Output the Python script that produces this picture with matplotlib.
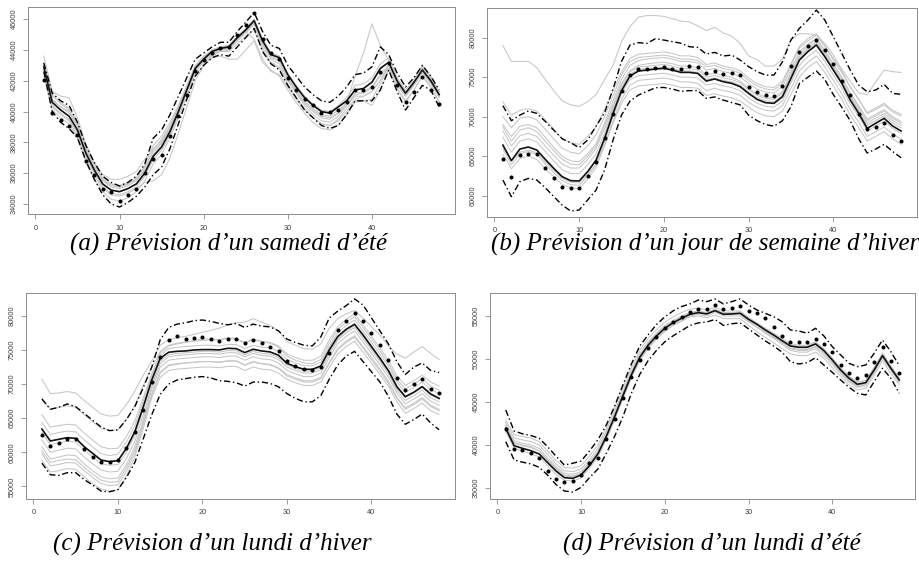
import matplotlib
matplotlib.use("Agg")
import matplotlib.pyplot as plt

x = list(range(1, 49))
x_ticks = [0, 10, 20, 30, 40]

captions = ["(a) Prévision d\u2019un samedi d\u2019été",
            "(b) Prévision d\u2019un jour de semaine d\u2019hiver",
            "(c) Prévision d\u2019un lundi d\u2019hiver",
            "(d) Prévision d\u2019un lundi d\u2019été"]

# ---------------- Panel (a) ----------------
a_yticks = [34000, 36000, 38000, 40000, 42000, 44000, 46000]
a_mean = [42900,40600,40100,39700,38800,37300,36200,35300,34900,34800,35000,35300,36000,37100,37700,38700,40000,41400,42800,43400,43900,44100,44200,44800,45300,45900,44600,43700,43500,42400,41600,40900,40400,40000,39900,40300,40700,41400,41500,41900,42800,43200,42000,41200,41900,42700,42000,41100]
a_real = [42050,39900,39450,39050,38500,36800,35900,34950,34800,34200,34600,34950,36000,36900,37200,38400,39700,41100,42650,43350,43800,44100,44200,45000,45600,46400,44700,43800,43400,42200,41400,40800,40400,39900,39950,40100,40650,41400,41400,41600,42600,43150,41750,40640,41290,42270,41400,40500]
a_upper = [43150,41200,40700,40400,39300,37800,36700,35800,35400,35170,35400,35800,36600,38270,38800,39800,41000,42200,43400,43800,44200,44500,44500,45200,45800,46440,45200,44300,44100,43000,42300,41600,41100,40700,40600,41000,41600,42400,42500,42900,44200,43700,42500,41600,42200,43000,42300,41400]
a_lower = [42600,40000,39300,38900,38300,36800,35600,34600,34000,33800,34100,34500,35100,35900,36400,37600,39200,40800,42300,43000,43500,43700,43600,44200,44800,45400,43900,43100,42700,41700,40900,40100,39600,39100,38900,39100,39800,40700,40700,40700,41400,42700,41300,40100,40900,41700,41400,40300]
a_gray1 = [43600,41300,41000,40900,39600,37900,36700,35900,35600,35600,35800,36100,36900,37600,38100,39000,40300,41600,42900,43500,43900,44000,44100,44600,45100,45700,44300,43400,43100,42100,41300,40600,40100,39700,39600,39900,40400,41100,41200,41500,42300,42800,41700,41000,41800,42700,42100,41200]
a_gray2 = [43000,41000,40600,40200,39300,37700,36600,35700,35300,35200,35400,35700,36400,37400,38000,38900,40100,41400,42700,43300,43700,43900,44000,44600,45200,45800,44500,43600,43300,42200,41300,40500,40000,39600,39500,39900,40600,42300,43800,45700,44300,43300,41900,41200,42000,42900,42200,41300]
a_gray3 = [42700,40300,39800,39400,38400,36900,35800,35000,34600,34500,34700,35000,35400,35500,35900,37000,38600,40300,42000,43000,43500,43600,43400,43400,44000,44600,43200,42700,42300,41400,40600,39900,39300,38900,38800,39100,39800,40600,40700,40400,41400,42700,41500,40700,41400,42300,41600,40600]
a_gray4 = [42800,40800,40300,39900,39000,37500,36300,35500,35100,35000,35200,35500,36200,37200,37900,38800,40100,41500,42900,43500,44000,44200,44300,44900,45400,46000,44700,43800,43600,42500,41700,41000,40500,40100,40000,40400,40900,41700,41800,42200,43100,43500,42200,41400,42100,43000,42300,41300]
a_gray5 = [42500,40400,39900,39500,38600,37100,36000,35100,34700,34600,34800,35100,35800,36900,37500,38500,39800,41200,42600,43200,43700,44000,44100,44700,45200,45700,44400,43500,43300,42200,41400,40700,40200,39800,39700,40100,40500,41200,41300,41600,42400,43000,41800,41000,41700,42500,41800,40900]
a_gray6 = [43200,41100,40500,40100,39200,37600,36400,35600,35200,35100,35300,35600,36300,37500,38200,39100,40300,41600,42900,43400,43800,44000,44100,44700,45300,45700,44100,43200,42900,42000,41200,40400,39800,39400,39300,39700,40400,41000,41000,41300,42000,43100,41800,41100,41800,42800,42000,41000]
a_gray7 = [42300,40100,39600,39200,38300,36700,35600,34800,34300,34200,34400,34800,35500,36600,37200,38300,39600,41000,42400,43000,43600,43900,43900,44400,44900,45300,44000,43100,42800,41800,40900,40200,39600,39200,39100,39400,40000,40700,40700,40800,41800,42800,41500,40600,41400,42300,41600,40600]
a_gray8 = [43000,40700,40300,40000,39100,37600,36500,35600,35200,35100,35300,35600,36500,37800,38400,39300,40400,41700,43000,43600,44000,44200,44300,44800,45200,44700,43400,42600,42400,41600,40800,40100,39600,39200,39100,39500,40200,40800,41000,41300,42000,43000,41900,41100,41800,42600,41900,41000]

# ---------------- Panel (b) ----------------
b_yticks = [60000, 65000, 70000, 75000, 80000]
b_mean = [66400,64430,65900,66160,65780,64600,63460,62400,61900,61860,63040,64510,67260,70420,73290,75150,75780,75900,76030,76120,75900,75610,75610,75480,74510,74770,74430,74220,73800,72950,72190,71770,71690,72530,74850,77170,78230,79070,77590,75900,74220,72110,70420,68520,69160,69790,68820,68190]
b_real = [64600,62320,65150,65270,65270,63460,62280,61140,61010,61010,62490,64300,67260,70300,73200,75270,76030,76030,76160,76240,76030,76030,76410,76330,75490,75820,75400,75490,75320,73800,73120,72740,72660,73880,76450,78140,78900,79700,78440,76620,74560,72700,70340,68400,68730,69160,67680,66960]
b_upper = [71390,69490,70200,70720,70420,69400,68300,67200,66700,66080,67050,68820,70500,73500,77000,79070,79370,79280,79870,79700,79500,79300,78860,78770,77930,78140,77680,77800,77170,76330,75700,75270,75270,76960,79700,81180,82230,83500,82230,80120,78010,75900,74000,73160,73370,74090,72950,72830]
b_lower = [61980,59870,61770,62190,61980,61000,59900,58800,58060,58190,59450,60720,63250,67050,70210,71980,72740,73200,73670,73700,73500,73200,73300,73300,72320,72500,72100,71800,71500,70200,69500,69000,68800,69500,71260,74200,75000,75780,74700,72800,71200,69500,67200,65400,65900,66500,65600,64800]
b_gray1 = [70000,68600,69800,70000,69600,68400,67200,66000,65500,65300,66300,67700,70000,72600,75300,77000,77500,77600,77700,77800,77600,77300,77300,77100,76300,76500,76100,75900,75500,74600,73900,73500,73400,74200,76500,78700,79600,80300,78900,77200,75600,73700,72200,70400,70900,71500,70600,70100]
b_gray2 = [69000,67500,68800,69000,68600,67400,66100,65000,64400,64300,65300,66600,69200,72000,74700,76500,77100,77300,77400,77500,77300,77000,77000,76800,75900,76100,75700,75500,75100,74200,73500,73100,73000,73800,76000,78200,79200,79900,78400,76700,75000,73000,71400,69700,70300,70900,70000,69400]
b_gray3 = [68200,66300,67600,67900,67500,66300,65100,64000,63500,63500,64600,66000,68500,71200,74000,75700,76300,76400,76500,76600,76400,76100,76100,75900,75000,75200,74900,74700,74300,73400,72700,72300,72200,73000,75300,77600,78700,79500,78000,76300,74600,72600,70900,69200,69800,70400,69500,68900]
b_gray4 = [67400,65500,66900,67200,66800,65600,64400,63300,62800,62800,63900,65300,67900,70900,73700,75400,76000,76100,76200,76300,76100,75800,75800,75600,74700,74900,74600,74400,74000,73100,72400,72000,71900,72700,75100,77400,78500,79300,77800,76100,74400,72400,70700,68900,69500,70100,69200,68600]
b_gray5 = [65900,63900,65300,65600,65200,64000,62900,61900,61400,61300,62500,64000,66800,70000,72900,74700,75200,75300,75400,75500,75300,75000,75000,74900,74000,74200,73900,73700,73300,72400,71700,71300,71200,72000,74300,76500,77600,78400,77000,75300,73600,71600,70000,68200,68800,69400,68500,67900]
b_gray6 = [65200,63400,64700,65000,64600,63400,62400,61400,61000,60900,62100,63600,66300,69400,72200,74000,74600,74700,74800,74900,74700,74400,74400,74200,73300,73600,73300,73100,72700,71800,71200,70800,70700,71400,73600,75800,76900,77700,76300,74600,72900,70900,69300,67500,68100,68700,67800,67200]
b_gray7 = [68700,66900,68300,68600,68100,66900,65700,64600,64000,63900,65000,66300,68900,71500,74200,75800,76500,76700,76800,76900,76700,76400,76400,76200,75300,75500,75200,75000,74500,73600,72900,72500,72400,73200,75600,77900,79000,79800,78300,76600,74900,72900,71200,69500,70100,70700,69800,69200]
b_gray8 = [66200,64400,65500,65800,65400,64300,63200,62200,61700,61600,62700,64000,66400,69200,71700,73400,73900,74000,74100,74200,74000,73700,73700,73600,72700,72900,72600,72400,72000,71200,70500,70100,70000,70700,72800,75000,76200,77000,75600,73900,72200,70200,68600,66900,67500,68100,67200,66500]
b_gray9 = [79000,77000,77000,77000,76200,74700,73300,72000,71500,71300,71900,72800,74700,76500,79500,81400,82600,82800,82800,82700,82400,82100,82000,81500,80900,81300,80600,80200,79300,77700,77200,76400,76400,77300,79800,80500,80500,80300,79300,77800,76000,74500,73000,72800,74400,75900,75700,75600]
b_gray10 = [71900,70200,70800,71000,70700,69600,68400,67200,66700,66500,67500,68700,70900,73300,75700,77400,77900,78000,78100,78200,78000,77700,77700,77500,76600,76800,76400,76200,75800,74900,74200,73800,73700,74500,76700,78900,79900,80500,79000,77400,75800,73800,72200,70500,71100,71700,70800,70300]

# ---------------- Panel (c) ----------------
c_yticks = [55000, 60000, 65000, 70000, 75000, 80000]
c_mean = [63410,61650,61900,62140,62040,60820,59840,58860,58620,58770,60580,63020,66690,70610,73790,74670,74810,74860,75010,75060,75060,75010,75250,75200,74620,75110,74860,74720,74230,73050,72560,72170,72170,72660,75010,76970,78040,78780,77210,75500,73790,71980,69630,68160,68800,69630,68550,67910]
c_real = [62530,60920,61410,61900,62000,60530,59350,58620,58520,58860,60670,63020,66200,70360,74030,76480,77060,76620,76720,76870,76570,76380,76670,76570,75990,76480,75990,75500,74910,73390,72710,72220,72070,72460,74620,77940,79310,80390,79260,77450,75740,73540,70950,69140,69970,70800,69280,68750]
c_upper = [67800,66300,66600,67080,66690,65700,64700,63700,63170,63270,64800,66700,69500,72500,76500,78300,78800,79000,79300,79400,79200,78900,78700,78900,78300,78800,78500,78400,77800,76600,76100,75700,75600,76900,79700,80700,81500,82500,81600,79700,77800,75900,73300,71400,72500,73100,72000,71700]
c_lower = [58400,56700,56600,57000,57000,56000,55200,54300,54200,54500,56300,58500,62000,65500,68500,70000,70600,70800,71000,71100,70900,70500,70400,70200,69700,70300,70300,70100,69600,68600,67900,67400,67400,68300,70700,72800,74100,74800,73300,71800,70300,68200,65600,64100,64800,65600,64300,63300]
c_gray1 = [70700,68600,68700,68900,68700,67600,66600,65600,65300,65400,67000,69000,71300,73400,75700,76500,76800,77000,77300,77600,77900,78200,78700,79000,79100,79600,79100,78600,77800,76200,75700,75200,75100,75900,78200,79600,80300,80800,79700,78400,77200,75600,74400,73800,74700,75500,74500,73600]
c_gray2 = [68000,66300,66600,66800,66600,65500,64500,63500,63200,63300,64800,66900,69800,72400,74800,75700,76000,76200,76400,76600,76600,76500,76700,76600,76100,76600,76300,76100,75600,74400,73900,73500,73500,74100,76500,78400,79500,80300,78700,77000,75300,73500,71200,69800,70500,71300,70300,69700]
c_gray3 = [65500,63700,63900,64100,64000,62800,61800,60800,60500,60600,62300,64600,68000,71500,74300,75200,75400,75500,75600,75700,75700,75600,75800,75800,75200,75700,75400,75300,74800,73600,73100,72700,72700,73200,75500,77500,78600,79400,77800,76100,74400,72600,70300,68800,69500,70300,69200,68600]
c_gray4 = [61800,60000,60300,60600,60500,59300,58300,57400,57100,57200,59100,61600,65500,69700,73000,74000,74200,74300,74400,74500,74500,74400,74600,74600,74000,74500,74200,74100,73600,72500,72000,71600,71600,72100,74400,76400,77500,78300,76700,75000,73300,71500,69100,67600,68300,69100,68000,67400]
c_gray5 = [60800,59000,59300,59600,59500,58300,57300,56400,56100,56200,58200,60800,64800,69200,72500,73500,73700,73800,73900,74000,74000,73900,74100,74100,73500,74000,73700,73600,73100,72000,71500,71100,71100,71600,73900,75900,77000,77800,76200,74500,72800,71000,68700,67100,67800,68600,67500,66900]
c_gray6 = [59800,58000,58200,58500,58400,57300,56300,55400,55100,55200,57200,59900,64000,68600,71800,72800,73000,73100,73200,73300,73300,73200,73400,73400,72800,73300,73000,72900,72400,71400,70900,70500,70500,71000,73200,75200,76300,77100,75500,73900,72200,70400,68100,66500,67200,68000,66900,66300]
c_gray7 = [58800,57100,57300,57600,57500,56400,55400,54600,54300,54500,56500,59300,63500,68000,71000,72000,72200,72300,72400,72500,72500,72400,72600,72600,72000,72500,72200,72100,71600,70700,70200,69800,69800,70300,72400,74400,75500,76300,74700,73100,71400,69700,67400,65700,66400,67200,66100,65500]
c_gray8 = [62900,61100,61400,61600,61500,60300,59300,58300,58100,58200,60000,62500,66300,70200,73400,74300,74500,74600,74700,74800,74800,74700,74900,74900,74300,74800,74500,74400,73900,72800,72300,71900,71900,72400,74700,76700,77800,78600,77000,75300,73600,71800,69400,68000,68700,69500,68400,67800]
c_gray9 = [64400,62600,62900,63100,63000,61800,60800,59800,59500,59700,61500,63900,67500,71300,74600,75600,75900,76100,76300,76400,76500,76500,76800,76700,76000,76500,76200,76000,75400,74100,73500,73100,73000,73600,76000,78000,79100,79900,78300,76600,74900,73000,70700,69300,70000,70800,69700,69100]
c_gray10 = [60200,58500,58800,59000,58900,57800,56800,55900,55600,55700,57700,60300,64300,68400,71600,72700,72900,73100,73200,73300,73300,73200,73400,73400,72800,73200,73000,72800,72300,71200,70700,70300,70300,70800,73000,75000,76100,76900,75300,73600,71900,70100,67900,66300,67000,67800,66700,66100]

# ---------------- Panel (d) ----------------
d_yticks = [35000, 40000, 45000, 50000, 55000]
d_mean = [41940,39920,39610,39340,38950,37950,36980,36200,36120,36510,37600,38950,40970,43290,45740,48140,50190,51590,52670,53570,54220,54730,55190,55390,55240,55620,55200,55240,55320,54620,54040,53380,52790,52130,51510,51360,51360,51750,50970,49890,48720,47760,47060,47250,48720,50390,48920,47560]
d_real = [41860,39500,39420,39030,38450,36980,36090,35700,35780,36510,37870,38450,40660,42980,45430,47870,49880,51240,52600,53570,54260,54920,55430,55780,55780,56280,55800,55970,56200,55620,55310,54730,53760,52720,51940,51940,51940,52330,51710,50780,49300,48340,47760,48140,49690,51360,49810,48340]
d_upper = [44070,41630,41300,41100,40780,39800,38700,37670,37870,38140,39300,40600,42300,44500,47000,49400,51500,52800,54000,54900,55600,56100,56400,56860,56670,56980,56400,56670,56980,56280,55700,55310,54920,54340,53380,53260,52990,53570,52680,51440,50470,49500,49110,49300,50660,52210,50850,49220]
d_lower = [40390,38260,38000,37800,37400,36500,35400,34650,34530,35080,36200,37200,39000,41000,43300,46000,48200,49800,51000,52000,52700,53300,53900,54200,54300,54600,53900,54100,54200,53500,52800,52100,51500,50800,49690,49420,49570,50150,49300,48450,47560,46710,46010,45820,47360,48920,47760,46010]
d_gray1 = [42600,40800,40600,40400,40000,38900,37800,37000,36900,37200,38300,39600,41600,43900,46300,48600,50600,52000,53000,53900,54500,55000,55400,55600,55400,55700,55300,55300,55300,54500,53900,53200,52600,51900,51200,51000,51000,51400,50700,49600,48500,47500,46900,47100,48600,50300,48800,47400]
d_gray2 = [42200,40500,40200,40000,39600,38500,37500,36700,36600,36900,38000,39300,41300,43600,46000,48400,50400,51800,52900,53800,54400,54900,55300,55500,55300,55700,55200,55200,55200,54400,53700,53000,52400,51700,51000,50800,50800,51200,50400,49400,48300,47300,46700,46900,48400,50100,48700,47300]
d_gray3 = [41600,39600,39300,39000,38600,37600,36600,35900,35800,36200,37300,38600,40600,42900,45400,47800,49900,51300,52400,53300,54000,54500,55000,55200,55000,55400,55000,55000,55000,54300,53700,53100,52500,51900,51300,51100,51100,51500,50700,49600,48500,47500,46800,47000,48500,50200,48700,47300]
d_gray4 = [42900,41200,41000,40800,40400,39300,38200,37400,37300,37600,38700,40000,42000,44300,46700,49000,51000,52400,53400,54300,54900,55400,55800,55900,55700,56000,55600,55600,55600,54800,54100,53400,52800,52200,51600,51500,51500,51900,51100,50000,48900,47900,47300,47500,49000,50700,49200,47800]
d_gray5 = [42100,40300,40000,39800,39300,38300,37300,36500,36400,36700,37800,39100,41000,43200,45500,47800,49800,51200,52300,53200,53900,54400,54900,55000,54800,55100,54700,54700,54700,53900,53200,52500,51900,51200,50600,50400,50400,50800,50100,49000,48000,47000,46400,46600,48100,49800,48300,47000]
d_gray6 = [42400,40200,39900,39700,39300,38200,37200,36400,36300,36700,37800,39100,41100,43400,45900,48300,50300,51700,52800,53700,54300,54800,55300,55500,55400,55800,55400,55400,55500,54800,54200,53600,53000,52400,51800,51600,51600,52000,51200,50100,49000,48000,47300,47500,49000,50600,49100,47800]

panels = [
    dict(box=(28, 455, 7.3, 214.3), ylim=(33330, 46770), yticks=a_yticks,
         gray=[a_gray1, a_gray2, a_gray3, a_gray4, a_gray5, a_gray6, a_gray7, a_gray8],
         mean=a_mean, real=a_real, upper=a_upper, lower=a_lower, cap=(229, 244)),
    dict(box=(487, 917, 8.3, 216.7), ylim=(57340, 83720), yticks=b_yticks,
         gray=[b_gray1, b_gray2, b_gray3, b_gray4, b_gray5, b_gray6, b_gray7, b_gray8, b_gray9, b_gray10],
         mean=b_mean, real=b_real, upper=b_upper, lower=b_lower, cap=(705, 244)),
    dict(box=(26, 455, 293.3, 499), ylim=(53140, 83320), yticks=c_yticks,
         gray=[c_gray1, c_gray2, c_gray3, c_gray4, c_gray5, c_gray6, c_gray7, c_gray8, c_gray9, c_gray10],
         mean=c_mean, real=c_real, upper=c_upper, lower=c_lower, cap=(212, 544)),
    dict(box=(490, 915, 293.3, 499), ylim=(33720, 57640), yticks=d_yticks,
         gray=[d_gray1, d_gray2, d_gray3, d_gray4, d_gray5, d_gray6],
         mean=d_mean, real=d_real, upper=d_upper, lower=d_lower, cap=(712, 544)),
]

W, H = 920, 563
fig = plt.figure(figsize=(W / 100, H / 100), dpi=100)
fig.patch.set_facecolor("white")

frame_col = "#8c8c8c"
label_col = "#404040"

for p, cap in zip(panels, captions):
    l, r, t, b = p["box"]
    ax = fig.add_axes([l / W, 1 - b / H, (r - l) / W, (b - t) / H])
    for g in p["gray"]:
        ax.plot(x, g, color="#c6c6c6", lw=0.75, zorder=1)
    ax.plot(x, p["upper"], color="black", lw=1.0, ls=(0, (4.5, 2, 1, 2)), zorder=3)
    ax.plot(x, p["lower"], color="black", lw=1.0, ls=(0, (4.5, 2, 1, 2)), zorder=3)
    ax.plot(x, p["mean"], color="#111111", lw=1.2, zorder=4)
    ax.plot(x, p["real"], ls="none", marker="o", ms=1.9, color="black", zorder=5)
    ax.set_xlim(-0.88, 49.88)
    ax.set_ylim(*p["ylim"])
    ax.set_xticks(x_ticks)
    ax.set_yticks(p["yticks"])
    ax.set_xticklabels([str(v) for v in x_ticks])
    ax.set_yticklabels([str(v) for v in p["yticks"]], rotation=90, va="center")
    for s in ax.spines.values():
        s.set_color(frame_col)
        s.set_linewidth(0.7)
    ax.tick_params(direction="out", length=3.5, width=0.6, color=frame_col,
                   labelsize=5.3, labelcolor=label_col, pad=4)
    for lab in ax.get_xticklabels() + ax.get_yticklabels():
        lab.set_fontfamily("Liberation Sans")
    cx, cy = p["cap"]
    fig.text(cx / W, 1 - cy / H, cap, ha="center", va="center",
             fontsize=18, fontstyle="italic", family="Liberation Serif", color="black")

fig.savefig("out.png", dpi=100, facecolor="white")
